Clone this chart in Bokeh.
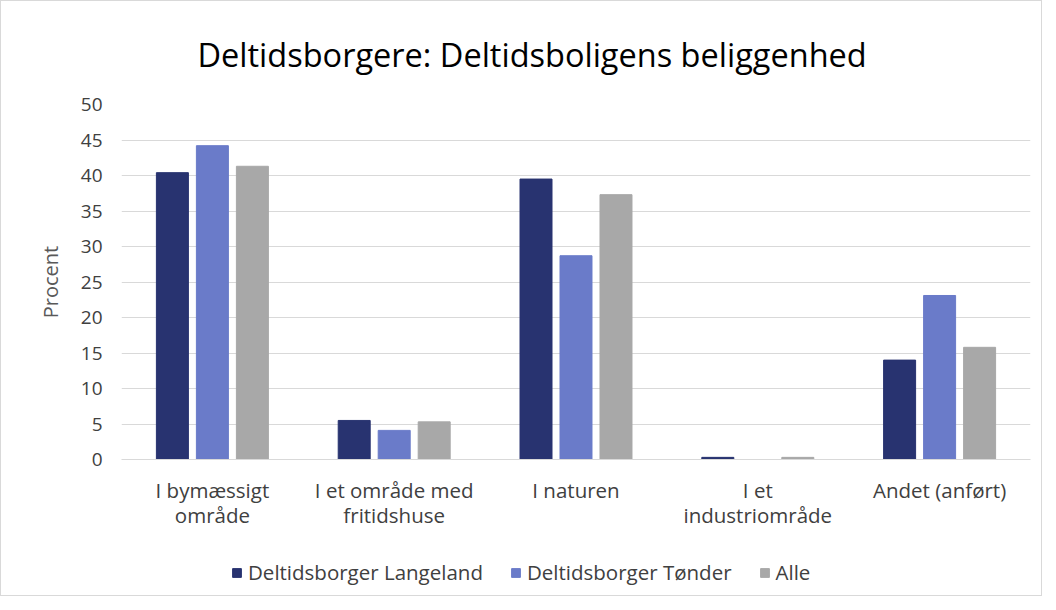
from bokeh.plotting import figure
from bokeh.layouts import column
from bokeh.models import ColumnDataSource, FactorRange, Legend, LegendItem, Title, SingleIntervalTicker
from bokeh.transform import dodge
from bokeh.embed import file_html
from bokeh.resources import INLINE

categories = ["I bymæssigt\nområde", "I et område med\nfritidshuse", "I naturen",
              "I et\nindustriområde", "Andet (anført)"]
langeland = [40.4, 5.5, 39.5, 0.3, 14.0]
tonder = [44.2, 4.1, 28.7, 0.0, 23.1]
alle = [41.3, 5.3, 37.3, 0.3, 15.8]
series_names = ["Deltidsborger Langeland", "Deltidsborger Tønder", "Alle"]
colors = ["#283370", "#6a7bc9", "#a8a8a8"]

FONT = "Open Sans"
TXT = "#404040"
LBL = "#595959"

src = ColumnDataSource(dict(cat=categories, a=langeland, b=tonder, c=alle))
keys = ["a", "b", "c"]
offsets = [-0.22, 0.0, 0.22]

p = figure(x_range=FactorRange(factors=categories, range_padding=0), y_range=(0, 50),
           frame_width=909, frame_height=355, output_backend="svg", toolbar_location=None,
           min_border_left=120, min_border_right=11, min_border_top=103, min_border_bottom=82)
p.outline_line_color = None

for key, off, col in zip(keys, offsets, colors):
    p.vbar(x=dodge("cat", off, range=p.x_range), top=key, width=0.176, source=src,
           fill_color=col, line_color=col)

p.title = Title(text="Deltidsborgere: Deltidsboligens beliggenhed", align="left",
                text_font=FONT, text_font_size="32.5px", text_font_style="normal",
                text_color="#000000", standoff=55, offset=76)

p.yaxis.ticker = SingleIntervalTicker(interval=5)
p.yaxis.axis_label = "Procent"
p.yaxis.axis_label_text_font = FONT
p.yaxis.axis_label_text_font_size = "20px"
p.yaxis.axis_label_text_font_style = "normal"
p.yaxis.axis_label_text_color = LBL
p.yaxis.axis_label_standoff = 14
for ax in (p.xaxis, p.yaxis):
    ax.major_label_text_font = FONT
    ax.major_label_text_color = TXT
    ax.major_tick_line_color = None
    ax.minor_tick_line_color = None
p.yaxis.major_label_text_font_size = "19px"
p.xaxis.major_label_text_font_size = "20.5px"
p.yaxis.axis_line_color = None
p.yaxis.major_label_standoff = 13
p.xaxis.axis_line_color = "#d9d9d9"
p.xaxis.major_label_standoff = 10
p.xaxis.major_label_text_line_height = 0.9
p.xaxis.major_label_orientation = "horizontal"

p.xgrid.grid_line_color = None
p.ygrid.grid_line_color = "#d9d9d9"

# legend strip: swatch bars share the chart data but sit outside this strip's visible range
lf = figure(width=1040, height=54, output_backend="svg", toolbar_location=None,
            x_range=p.x_range, y_range=(100, 101), min_border=0)
lf.axis.visible = False
lf.grid.visible = False
lf.outline_line_color = None
swatches = [lf.vbar(x=dodge("cat", off, range=lf.x_range), top=key, width=0.176, source=src,
                    fill_color=c, line_color=c) for key, off, c in zip(keys, offsets, colors)]
legend = Legend(items=[LegendItem(label=n, renderers=[r]) for n, r in zip(series_names, swatches)],
                orientation="horizontal", location=(110, 9),
                label_text_font=FONT, label_text_font_size="20.5px", label_text_color=TXT,
                glyph_width=11, glyph_height=11, spacing=27, label_standoff=6,
                border_line_color=None, background_fill_alpha=0, margin=0, padding=0)
lf.add_layout(legend, "center")

layout = column(p, lf, spacing=0, styles={"border": "1px solid #d9d9d9"})
open("out.html", "w").write(file_html(layout, INLINE))
